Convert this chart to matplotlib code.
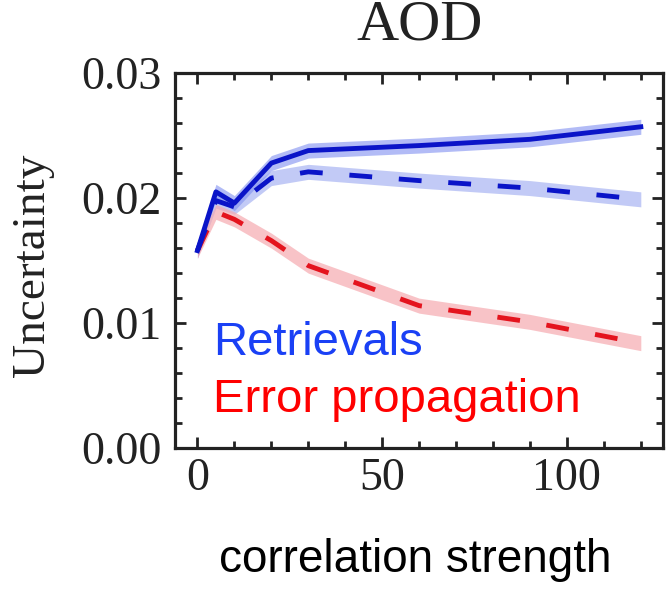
import matplotlib
matplotlib.use("Agg")
import matplotlib.pyplot as plt
from matplotlib.ticker import MultipleLocator, FormatStrFormatter

# correlation strength values and uncertainty curves
corr = [0, 5, 10, 20, 30, 60, 90, 120]
retr_solid = [0.0158, 0.0205, 0.0196, 0.0228, 0.0238, 0.0242, 0.0247, 0.0257]
retr_dash = [0.0158, 0.0198, 0.0193, 0.0216, 0.0221, 0.0214, 0.0208, 0.0199]
errprop = [0.0158, 0.0189, 0.0183, 0.0166, 0.0146, 0.0114, 0.0101, 0.0084]
band_solid = 0.0006
band_dash = 0.0006
band_err = 0.0006

serif = "Liberation Serif"
sans = "Liberation Sans"

fig = plt.figure(figsize=(6.69, 5.89), dpi=100)
ax = fig.add_axes([0.262, 0.239, 0.729, 0.637])

blue = "#0a14c8"
red = "#e4141e"

# shaded bands first, lines on top
lo = [v - band_dash for v in retr_dash]
hi = [v + band_dash for v in retr_dash]
ax.fill_between(corr, lo, hi, color="#9aa8f0", alpha=0.6, lw=0)
lo = [v - band_solid for v in retr_solid]
hi = [v + band_solid for v in retr_solid]
ax.fill_between(corr, lo, hi, color="#7f8ff0", alpha=0.6, lw=0)
lo = [v - band_err for v in errprop]
hi = [v + band_err for v in errprop]
ax.fill_between(corr, lo, hi, color="#f6aab0", alpha=0.7, lw=0)

ax.plot(corr, errprop, color=red, lw=3.5, dashes=(4.7, 5.5))
ax.plot(corr, retr_dash, color=blue, lw=3.5, dashes=(4.7, 5.5))
ax.plot(corr, retr_solid, color=blue, lw=3.5)

ax.set_xlim(-6, 126)
ax.set_ylim(0, 0.03)
ax.xaxis.set_major_locator(MultipleLocator(50))
ax.xaxis.set_minor_locator(MultipleLocator(10))
ax.yaxis.set_major_locator(MultipleLocator(0.01))
ax.yaxis.set_minor_locator(MultipleLocator(0.002))
ax.yaxis.set_major_formatter(FormatStrFormatter("%.2f"))
ax.tick_params(which="both", direction="in", top=True, right=True, width=2, color="#222222")
ax.tick_params(which="major", length=8)
ax.tick_params(which="minor", length=5)
ax.tick_params(axis="x", pad=7)
ax.tick_params(axis="y", pad=10)
for lab in ax.get_xticklabels() + ax.get_yticklabels():
    lab.set_fontfamily(serif)
    lab.set_fontsize(33)
    lab.set_color("#222222")
for sp in ax.spines.values():
    sp.set_linewidth(2.3)
    sp.set_color("#222222")

ax.set_title("AOD", family=serif, fontsize=42, pad=24, color="#222222")
fig.text(33 / 669, 0.55, "Uncertainty", family=serif, fontsize=34, rotation=90,
         ha="center", va="center", color="#222222")

ax.text(0.078, 0.248, "Retrievals", transform=ax.transAxes, color="#1a40f5",
        fontsize=34, family=sans, va="baseline")
ax.text(0.078, 0.096, "Error propagation", transform=ax.transAxes, color="#ff0000",
        fontsize=34, family=sans, va="baseline")

fig.text(0.62, 0.05, "correlation strength", fontsize=33, family=sans,
         ha="center", va="center")

fig.savefig("out.png", dpi=100)
